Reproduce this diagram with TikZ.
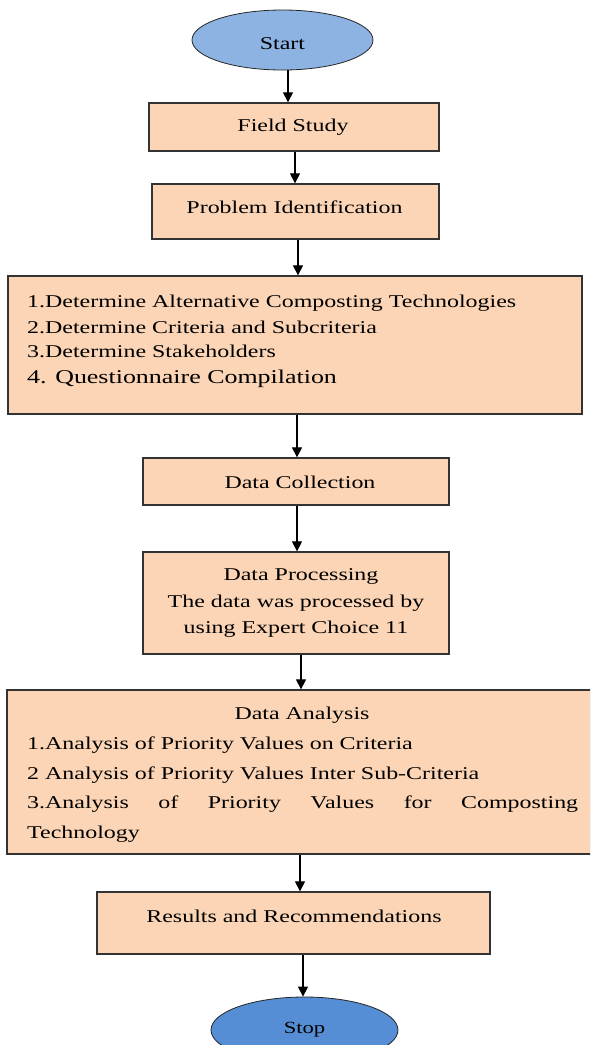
\documentclass[tikz,border=0pt]{standalone}
\usepackage{fontspec}
\setmainfont{Liberation Serif}[FakeStretch=1.33]
\usetikzlibrary{shapes.geometric,arrows.meta,shadows}
\definecolor{peach}{HTML}{FBD5B5}
\definecolor{startblue}{HTML}{8DB3E2}
\definecolor{stopblue}{HTML}{558ED5}
\begin{document}
\begin{tikzpicture}[x=1pt,y=-1pt,
  box/.style={rectangle, draw=black!80, line width=1.3pt, fill=peach, inner sep=0pt,
    drop shadow={shadow xshift=1.3pt, shadow yshift=-1.3pt, fill=black!35, opacity=0.8}},
  term/.style={ellipse, draw=black!85, line width=0.8pt, inner sep=0pt},
  txt/.style={font=\fontsize{18}{25}\selectfont, inner sep=0pt},
  arr/.style={line width=1.2pt, -{Triangle[width=10pt,length=10pt]}}]
\clip (0,0) rectangle (590,1045);
\fill[white] (0,0) rectangle (590,1045);

% terminals
\node[term, fill=startblue, minimum width=181pt, minimum height=60pt] (start) at (282.5,40) {};
\node[term, fill=stopblue, minimum width=187pt, minimum height=66pt] (stop) at (304.5,1030) {};

% process boxes
\node[box, minimum width=290pt, minimum height=48pt] (field) at (294,127) {};
\node[box, minimum width=287pt, minimum height=55pt] (prob) at (295.5,211.5) {};
\node[box, minimum width=574pt, minimum height=138pt] (tasks) at (295,345) {};
\node[box, minimum width=306pt, minimum height=47pt] (collect) at (296,481.5) {};
\node[box, minimum width=306pt, minimum height=102pt] (process) at (296,603) {};
\node[box, minimum width=598pt, minimum height=164pt] (analysis) at (306,772) {};
\node[box, minimum width=393pt, minimum height=62pt] (results) at (293.5,923) {};

% texts
\node[txt, anchor=base] (starttxt) at (282.5,49) {Start};
\node[txt, anchor=base] (fieldtxt) at (293,131.5) {Field Study};
\node[txt, anchor=base] (probtxt) at (294.5,213) {Problem Identification};

\node[txt, anchor=base west] (task1) at (27,307) {1.Determine Alternative Composting Technologies};
\node[txt, anchor=base west] (task2) at (27,333) {2.Determine Criteria and Subcriteria};
\node[txt, anchor=base west] (task3) at (27,357.5) {3.Determine Stakeholders};
\node[txt, anchor=base west, font=\fontsize{19.5}{25}\selectfont] (task4) at (27,383) {4. Questionnaire Compilation};

\node[txt, anchor=base] (collecttxt) at (300,488) {Data Collection};

\node[txt, anchor=base] (proc1) at (301,580) {Data Processing};
\node[txt, anchor=base] (proc2) at (296,607) {The data was processed by};
\node[txt, anchor=base] (proc3) at (296,633) {using Expert Choice 11};

\node[txt, anchor=base] (ana0) at (302,719) {Data Analysis};
\node[txt, anchor=base west] (ana1) at (27,749) {1.Analysis of Priority Values on Criteria};
\node[txt, anchor=base west] (ana2) at (27,779) {2 Analysis of Priority Values Inter Sub-Criteria};
\node[txt, anchor=base west] (ana3) at (27,808) {\hbox to 551pt{3.Analysis\hfill of\hfill Priority\hfill Values\hfill for\hfill Composting}};
\node[txt, anchor=base west] (ana4) at (27,838) {Technology};

\node[txt, anchor=base] (resultstxt) at (294,922) {Results and Recommendations};
\node[txt, anchor=base, font=\fontsize{17}{20}\selectfont] (stoptxt) at (304.5,1033) {Stop};

% connectors
\draw[arr] ([xshift=5.5pt]start.south) -- ([xshift=5.5pt]start.south |- field.north);
\draw[arr] ([xshift=1pt]field.south) -- ([xshift=1pt]field.south |- prob.north);
\draw[arr] ([xshift=2.5pt]prob.south) -- ([xshift=2.5pt]prob.south |- tasks.north);
\draw[arr] ([xshift=2pt]tasks.south) -- ([xshift=2pt]tasks.south |- collect.north);
\draw[arr] ([xshift=1pt]collect.south) -- ([xshift=1pt]collect.south |- process.north);
\draw[arr] ([xshift=5pt]process.south) -- ([xshift=5pt]process.south |- analysis.north);
\draw[arr] ([xshift=-6pt]analysis.south) -- ([xshift=-6pt]analysis.south |- results.north);
\draw[arr] ([xshift=9.5pt]results.south) -- ([xshift=9.5pt]results.south |- stop.north);
\end{tikzpicture}
\end{document}
